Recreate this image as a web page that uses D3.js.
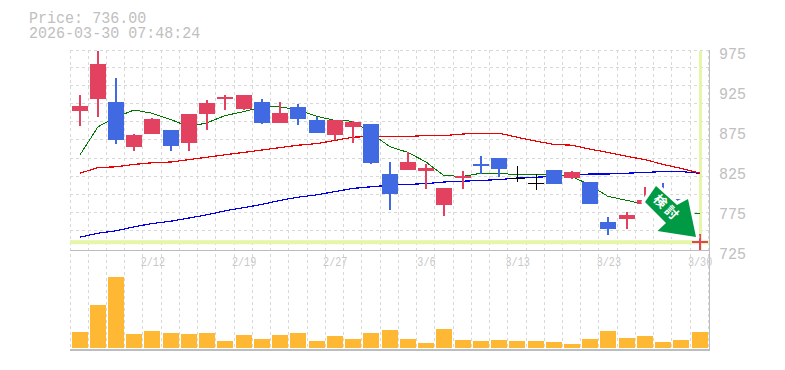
<!DOCTYPE html>
<html lang="en">
<head>
<meta charset="utf-8">
<title>Price chart</title>
<script src="https://d3js.org/d3.v7.min.js"></script>
<style>
    html, body { margin: 0; padding: 0; background: #fff; overflow: hidden; }
    svg { display: block; }
    text { font-family: "Liberation Mono", monospace; fill: #c0c0c0; }
</style>
</head>
<body>
<div id="my_dataviz"></div>
<script>
    // trading days
    var dates = ["2/5","2/6","2/9","2/10","2/12","2/13","2/16","2/17","2/18","2/19","2/20","2/24","2/25","2/26","2/27",
        "3/2","3/3","3/4","3/5","3/6","3/9","3/10","3/11","3/12","3/13","3/16","3/17","3/18","3/19","3/23",
        "3/24","3/25","3/26","3/27","3/30"]
    var dateTicks = ["2/12","2/19","2/27","3/6","3/13","3/23","3/30"]
    var priceTicks = [975,925,875,825,775,725]

    // candles (the ones behind the arrow are guesses)
    var open  = [899,914,910,854,870,875,859,895,914,901,910,884,904,887,869,879,882,820,825,824,781,815,832,840,815,809,825,815,810,760,764,782,790,789,734]
    var close = [905,957,862,869,889,855,895,909,916,919,884,896,889,871,887,885,834,795,835,827,802,817,830,826,815,809,807,822,782,751,769,787,781,769,736]
    var high  = [919,974,940,870,890,875,895,912,919,919,914,910,907,891,887,886,882,835,847,832,802,824,842,840,830,820,825,824,810,766,772,804,809,789,745]
    var low   = [880,891,857,849,870,849,849,875,900,900,882,884,881,871,862,859,832,775,825,801,767,801,820,816,810,800,807,814,782,744,751,780,772,762,725]

    // moving averages
    var maShort = [844,879,891,900,896,888,879,884,893,898,904,904,900,892,887,886,871,854,847,835,818,817,821,821,819,820,820,817,806,792,787,782,779,772,770]
    var maMid   = [821,828,829,832,834,835,838,841,844,847,850,853,856,858,862,866,867,867,867,868,868,870,871,871,866,861,857,856,851,847,842,838,832,827,821]
    var maLong  = [741,746,749,754,758,761,765,769,774,778,782,787,791,794,798,802,804,806,807,808,810,811,812,813,815,816,817,819,820,820,821,822,823,823,821]

    var volume = [16,43,71,14,17,15,14,15,7,13,9,13,15,7,12,9,15,18,9,5,19,8,7,8,7,7,6,4,9,17,10,12,6,8,16]

    var lastPrice = 736
    var stamp = "2026-03-30 07:48:24"

    var width = 785, height = 370
    var plotLeft = 70, plotRight = 708.4, priceTop = 50, priceBottom = 250, volTop = 250, volBottom = 348

    var svg = d3.select("#my_dataviz")
      .append("svg")
        .attr("width", width)
        .attr("height", height)

    var x = d3.scaleBand().domain(dates).range([plotLeft, plotRight])
    var y = d3.scaleLinear().domain([725, 975]).range([priceBottom, priceTop])
    var yVol = d3.scaleLinear().domain([0, 98]).range([volBottom, volTop])

    // whole pixel left edge of a day's slot, so the bars stay sharp
    function slot(d) { return Math.floor(x(d)) }
    function mid(d) { return slot(d) + 10 }

    // grid
    var grid = svg.append("g")
        .attr("stroke", "#d8d8d8")
        .attr("stroke-dasharray", "3,3")
        .attr("shape-rendering", "crispEdges")
    grid.selectAll(".v")
        .data(dates)
      .enter().append("line")
        .attr("x1", function(d) { return slot(d) + 0.5 })
        .attr("x2", function(d) { return slot(d) + 0.5 })
        .attr("y1", priceTop)
        .attr("y2", 350)
    grid.append("line")
        .attr("x1", Math.floor(plotRight) + 0.5).attr("x2", Math.floor(plotRight) + 0.5)
        .attr("y1", priceTop).attr("y2", 350)
    grid.selectAll(".h")
        .data(d3.range(1, 11))
      .enter().append("line")
        .attr("x1", plotLeft)
        .attr("x2", 709)
        .attr("y1", function(i) { return Math.floor(y(975 - i * 250 / 11)) - 0.5 })
        .attr("y2", function(i) { return Math.floor(y(975 - i * 250 / 11)) - 0.5 })
    grid.append("line")
        .attr("x1", plotLeft).attr("x2", 709)
        .attr("y1", priceTop + 0.5).attr("y2", priceTop + 0.5)

    // frame
    var frame = svg.append("g")
        .attr("stroke", "#bdbdbd")
        .attr("shape-rendering", "crispEdges")
    frame.append("line").attr("x1", plotLeft).attr("x2", 710).attr("y1", 250.5).attr("y2", 250.5)
    frame.append("line").attr("x1", plotLeft).attr("x2", 710).attr("y1", 350).attr("y2", 350).attr("stroke-width", 2)
    frame.append("line").attr("x1", 709.5).attr("x2", 709.5).attr("y1", priceTop).attr("y2", 351)

    // current price cross hair
    svg.append("rect")
        .attr("x", plotLeft)
        .attr("y", y(lastPrice) - 1)
        .attr("width", 639)
        .attr("height", 4)
        .attr("fill", "#e6f6a8")
    svg.append("rect")
        .attr("x", mid(dates[34]) - 1)
        .attr("y", priceTop + 1)
        .attr("width", 3)
        .attr("height", 199)
        .attr("fill", "#e6f6a8")

    // moving averages sit under the candles
    var maLine = d3.line()
        .x(function(d, i) { return mid(dates[i]) })
        .y(function(d) { return y(d) })
    function drawMa(values, color, w) {
        svg.append("path")
            .datum(values)
            .attr("fill", "none")
            .attr("stroke", color)
            .attr("stroke-width", w)
            .attr("shape-rendering", "crispEdges")
            .attr("d", maLine)
    }
    drawMa(maLong, "#0000ee", 1.2)
    drawMa(maMid, "#ee0000", 1.2)
    drawMa(maShort, "#007700", 1)

    // candles
    function isDoji(i) { return close[i] == open[i] }
    function candleColor(i) {
        if (isDoji(i)) return "#000000"
        return close[i] > open[i] ? "#e2425f" : "#4169e1"
    }
    var candles = svg.append("g").attr("shape-rendering", "crispEdges")
    candles.selectAll(".wick")
        .data(dates)
      .enter().append("rect")
        .attr("x", function(d, i) { return mid(d) - (isDoji(i) ? 0 : 1) })
        .attr("width", function(d, i) { return isDoji(i) ? 1 : 2 })
        .attr("y", function(d, i) { return y(high[i]) })
        .attr("height", function(d, i) { return y(low[i]) - y(high[i]) })
        .attr("fill", function(d, i) { return candleColor(i) })
    candles.selectAll(".body")
        .data(dates)
      .enter().append("rect")
        .attr("x", function(d) { return slot(d) + 2 })
        .attr("width", 16)
        .attr("y", function(d, i) { return y(Math.max(open[i], close[i])) })
        .attr("height", function(d, i) { return isDoji(i) ? 1 : Math.max(2, Math.abs(y(open[i]) - y(close[i]))) })
        .attr("fill", function(d, i) { return candleColor(i) })

    // volume
    svg.append("g").selectAll("rect")
        .data(dates)
      .enter().append("rect")
        .attr("x", function(d) { return slot(d) + 2 })
        .attr("width", 16)
        .attr("y", function(d, i) { return yVol(volume[i]) })
        .attr("height", function(d, i) { return volBottom - yVol(volume[i]) })
        .attr("fill", "#ffb833")
        .attr("shape-rendering", "crispEdges")

    // axes, glyphs squeezed a bit to get the narrow tall look
    var xAxis = svg.append("g")
        .attr("transform", "translate(0,257)")
        .call(d3.axisBottom(x).tickValues(dateTicks).tickSize(0).tickPadding(0))
    xAxis.select(".domain").remove()
    xAxis.selectAll("text")
        .attr("y", 0)
        .attr("dy", "0.71em")
        .attr("x", 1)
        .attr("transform", "scale(0.78,1)")
        .style("font-family", '"Liberation Mono", monospace')
        .style("font-size", "13px")
        .style("fill", "#c8c8c8")

    var yAxis = svg.append("g")
        .attr("transform", "translate(719,0)")
        .call(d3.axisRight(y).tickValues(priceTicks).tickSize(0).tickPadding(0))
    yAxis.select(".domain").remove()
    yAxis.selectAll("text")
        .attr("x", 0)
        .attr("dy", "0.55em")
        .attr("transform", "scale(0.94,1)")
        .style("font-family", '"Liberation Mono", monospace')
        .style("font-size", "16px")
        .style("fill", "#c0c0c0")

    // heading
    svg.append("text").attr("transform", "translate(29,23) scale(0.94,1)").style("font-size", "16px")
        .text("Price: " + lastPrice.toFixed(2))
    svg.append("text").attr("transform", "translate(29,38) scale(0.94,1)").style("font-size", "16px")
        .text(stamp)

    // arrow badge with its white halo
    svg.append("polygon")
        .attr("points", "656,186 645,202 666,223 657.5,231 696,237 688,199 677,205")
        .attr("fill", "#009944")
        .attr("stroke", "#ffffff")
        .attr("stroke-width", 7)
        .attr("stroke-linejoin", "round")
        .attr("paint-order", "stroke")
    svg.append("text")
        .attr("transform", "translate(667,208) rotate(45)")
        .attr("text-anchor", "middle")
        .attr("dy", "0.35em")
        .style("font-family", '"Noto Sans CJK JP", sans-serif')
        .style("font-size", "13px")
        .style("font-weight", "700")
        .style("letter-spacing", "3px")
        .style("fill", "#ffffff")
        .text("検討")
</script>
</body>
</html>
